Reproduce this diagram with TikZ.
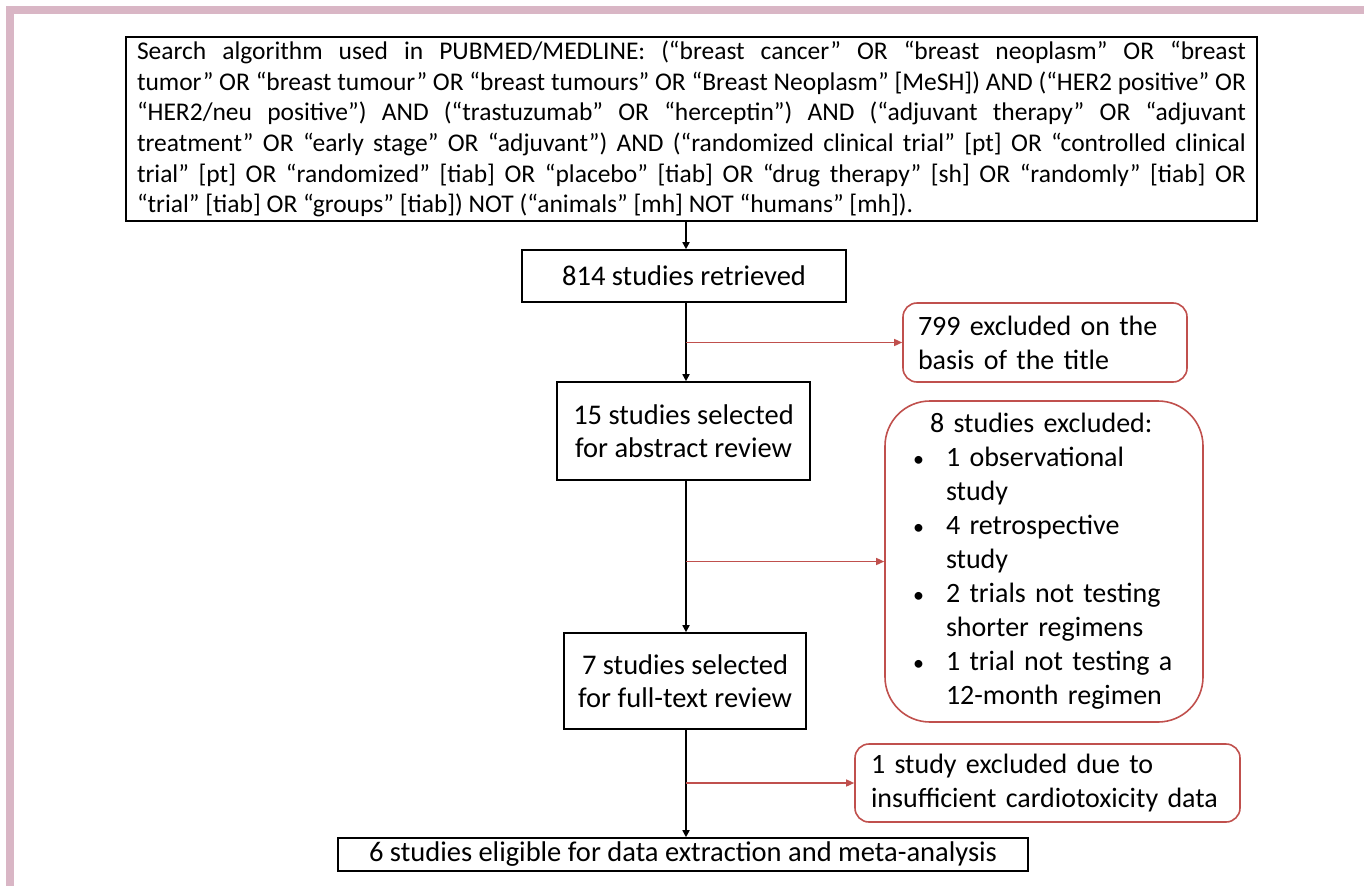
\documentclass[tikz,border=0pt]{standalone}
\usepackage{fontspec}
\setmainfont{Carlito}
\usetikzlibrary{arrows.meta}

\definecolor{framepink}{RGB}{217,182,197}
\definecolor{exclred}{RGB}{192,80,77}

\newcommand{\dotmark}{\hspace*{2pt}\makebox[33pt][l]{\fontsize{22}{22}\selectfont •}}

\tikzset{
  stepbox/.style={draw=black, line width=1.6pt, inner sep=0pt,
    font=\fontsize{28.5}{33}\selectfont},
  exclbox/.style={draw=exclred, line width=1.6pt, rounded corners=14pt,
    inner sep=0pt, font=\fontsize{28}{34}\selectfont},
  flow/.style={line width=1.6pt, -{Triangle[length=7pt,width=7pt]}},
  side/.style={exclred, line width=1.4pt, -{Triangle[length=8pt,width=7pt]}}
}

\begin{document}
\begin{tikzpicture}[x=1pt,y=-1pt]
\useasboundingbox (0,0) rectangle (1364,886);
% frame
\fill[framepink] (6,6) rectangle (1364,14);
\fill[framepink] (6,6) rectangle (14,886);
\coordinate (spine) at (686,0);
% main column
\node[stepbox, inner xsep=11pt, text width=1109pt, minimum height=184pt, align=justify,
  font=\fontsize{25.5}{30.6}\selectfont] (search) at (691.5,129) {\tolerance=10000
Search algorithm used in PUBMED/MEDLINE: (“breast cancer” OR “breast neoplasm” OR “breast\linebreak
tumor” OR “breast tumour” OR “breast tumours” OR “Breast Neoplasm” [MeSH]) AND (“HER2 positive” OR\linebreak
“HER2/neu positive”) AND (“trastuzumab” OR “herceptin”) AND (“adjuvant therapy” OR “adjuvant\linebreak
treatment” OR “early stage” OR “adjuvant”) AND (“randomized clinical trial” [pt] OR “controlled clinical\linebreak
trial” [pt] OR “randomized” [tiab] OR “placebo” [tiab] OR “drug therapy” [sh] OR “randomly” [tiab] OR\linebreak
“trial” [tiab] OR “groups” [tiab]) NOT (“animals” [mh] NOT “humans” [mh]).};
\node[stepbox, minimum width=324pt, minimum height=52pt] (retrieved) at (684,276) {814 studies retrieved};
\node[stepbox, minimum width=253pt, minimum height=98pt, align=center] (abstract) at (683.5,431)
  {15 studies selected\\for abstract review};
\node[stepbox, minimum width=242pt, minimum height=96pt, align=center] (fulltext) at (685,681)
  {7 studies selected\\for full-text review};
\node[stepbox, minimum width=690pt, minimum height=33pt] (eligible) at (683,854.5)
  {6 studies eligible for data extraction and meta-analysis};
% exclusions
\node[exclbox, inner xsep=15pt, text width=254pt, minimum height=79pt, align=left] (titleexcl) at (1045,342.5)
  {799 excluded on the\\basis of the title};
\node[exclbox, rounded corners=45pt, inner xsep=26pt, text width=266pt, minimum height=321pt, align=left]
  (absexcl) at (1044,561.5)
  {\hspace*{19pt}8 studies excluded:\\
   \dotmark1 observational\\
   \hspace*{35pt}study\\
   \dotmark4 retrospective\\
   \hspace*{35pt}study\\
   \dotmark2 trials not testing\\
   \hspace*{35pt}shorter regimens\\
   \dotmark1 trial not testing a\\
   \hspace*{35pt}12-month regimen};
\node[exclbox, inner xsep=16pt, text width=353pt, minimum height=78pt, align=left] (dataexcl) at (1047.5,783)
  {1 study excluded due to\\insufficient cardiotoxicity data};
% connectors
\draw[flow] (search.south -| spine) -- (retrieved.north -| spine);
\draw[flow] (retrieved.south -| spine) -- (abstract.north -| spine);
\draw[flow] (abstract.south -| spine) -- (fulltext.north -| spine);
\draw[flow] (fulltext.south -| spine) -- (eligible.north -| spine);
\draw[side] (titleexcl.west -| spine) -- (titleexcl.west);
\draw[side] (absexcl.west -| spine) -- (absexcl.west);
\draw[side] (dataexcl.west -| spine) -- (dataexcl.west);
\end{tikzpicture}
\end{document}
